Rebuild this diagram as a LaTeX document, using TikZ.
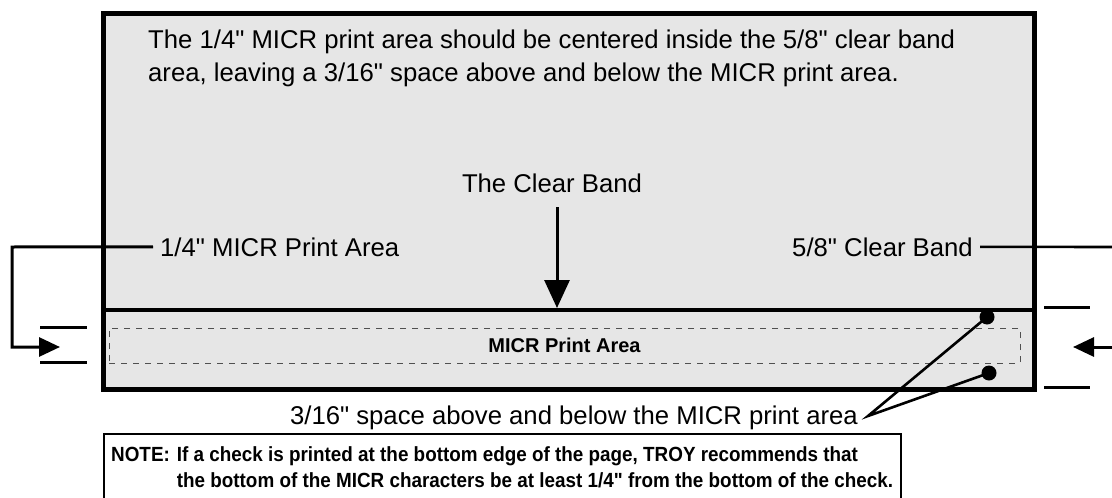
\documentclass[tikz,border=0pt]{standalone}
\usepackage{fontspec}
\setmainfont{Liberation Sans}
\newfontfamily\chksans{Liberation Sans}
\newfontfamily\notefont[FakeStretch=0.92]{Liberation Sans}
\usetikzlibrary{positioning, arrows.meta, calc}
\definecolor{chkgray}{HTML}{E6E6E6}
\definecolor{dashgray}{HTML}{505050}

\begin{document}
\begin{tikzpicture}[x=1pt, y=-1pt, font=\chksans\fontsize{25.7}{33}\selectfont,
    lbl/.style={inner sep=0pt, text=black},
    lead/.style={line width=2.6pt},
    tick/.style={line width=3pt},
    dot/.style={circle, fill=black, inner sep=0pt, minimum size=15pt},
    bigarrow/.style={line width=3pt, -{Triangle[length=28pt, width=25pt]}},
    sidearrow/.style={line width=3pt, -{Triangle[length=21pt, width=19pt]}}]
    \useasboundingbox (0,0) rectangle (1112,498);

    % the check and its clear band
    \node[draw, line width=5pt, fill=chkgray, inner sep=0pt, anchor=north west,
          minimum width=931pt, minimum height=376pt] (check) at (101,11) {};
    \node[draw, line width=4pt, inner sep=0pt, anchor=south west,
          minimum width=931pt, minimum height=80pt] (band) at (check.south west) {};
    \node[draw=dashgray, line width=1pt, dash pattern=on 6pt off 6pt, inner sep=0pt,
          minimum width=911pt, minimum height=35pt,
          font=\chksans\fontsize{20}{24}\selectfont\bfseries] (micr) at (564.5,345.5) {MICR Print Area};

    % texts inside the check
    \node[lbl, anchor=base west] (introa) at (148,48)
      {The 1/4" MICR print area should be centered inside the 5/8" clear band};
    \node[lbl, anchor=base west] (introb) at ($(introa.base west)+(0,33)$)
      {area, leaving a 3/16" space above and below the MICR print area.};
    \node[lbl, anchor=base] (cbtitle) at (552,192) {The Clear Band};
    \coordinate (cbtop) at (557,207);
    \draw[bigarrow] (cbtop) -- (cbtop |- band.north);

    \node[lbl, anchor=base west] (micrlbl) at (160,256) {1/4" MICR Print Area};
    \node[lbl, anchor=base east] (bandlbl) at (973,256) {5/8" Clear Band};

    % left bracket
    \coordinate (lbend) at (12,247);
    \coordinate (ltip) at (60,347);
    \draw[sidearrow] ([xshift=-7pt]micrlbl.west) -- (lbend) |- (ltip);
    \foreach \y in {327,362}
      \draw[tick] (40,\y) -- (87,\y);

    % right bracket
    \coordinate (redge) at (1112,247);
    \coordinate (rstart) at (1112,347);
    \coordinate (rtip) at (1073,347);
    \draw[lead] ([xshift=7pt]bandlbl.east) -- (redge);
    \draw[sidearrow] (rstart) -- (rtip);
    \foreach \y in {307,387}
      \draw[tick] (1044,\y) -- (1090,\y);

    % 3/16" space pointers
    \node[dot] (dtop) at (987,317) {};
    \node[dot] (dbot) at (989,373) {};
    \node[lbl, anchor=base east] (spacelbl) at (858,424)
      {3/16" space above and below the MICR print area};
    \coordinate (spv) at (868,416);
    \draw[lead, line join=miter] (dtop.center) -- (spv) -- (dbot.center);

    % note
    \node[draw, line width=1.5pt, fill=white, inner sep=0pt, anchor=north west,
          minimum width=797pt, minimum height=70pt] (notebox) at (103,433) {};
    \node[lbl, anchor=north west, font=\notefont\bfseries\fontsize{20.5}{26}\selectfont]
      (note) at (111,443)
      {\begin{tabular}{@{}l@{\hspace{7pt}}l@{}}
         NOTE: & If a check is printed at the bottom edge of the page, TROY recommends that\\
               & the bottom of the MICR characters be at least 1/4" from the bottom of the check.
       \end{tabular}};
  \end{tikzpicture}
\end{document}
